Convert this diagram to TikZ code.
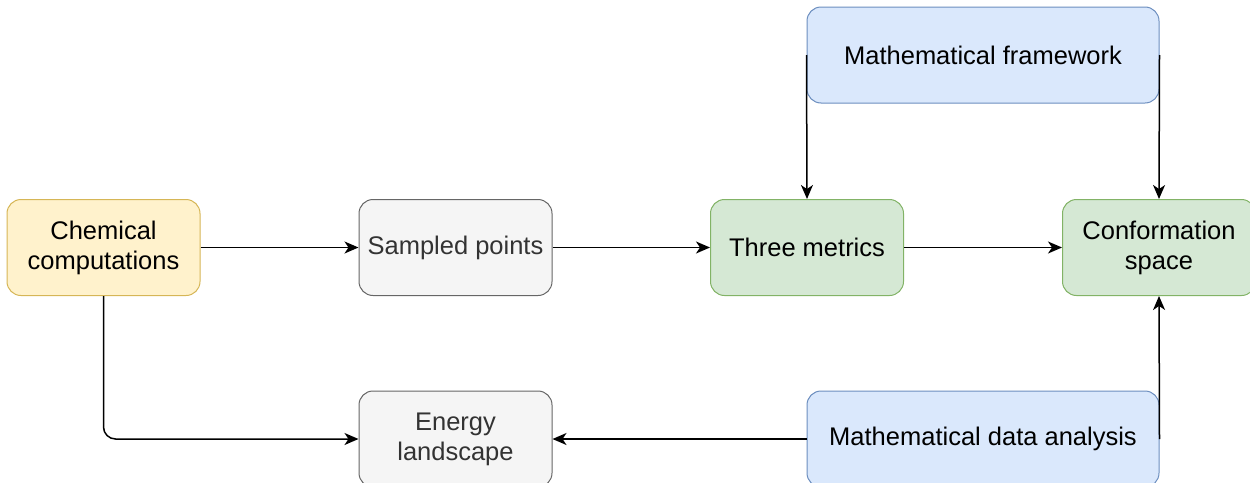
\documentclass[tikz,border=0pt]{standalone}
\usepackage{fontspec}
\setmainfont{Liberation Sans}
\usetikzlibrary{arrows.meta}
\definecolor{yfill}{HTML}{FFF2CC}
\definecolor{ydraw}{HTML}{D6B656}
\definecolor{gfill}{HTML}{F5F5F5}
\definecolor{gdraw}{HTML}{666666}
\definecolor{gtext}{HTML}{333333}
\definecolor{grfill}{HTML}{D5E8D4}
\definecolor{grdraw}{HTML}{82B366}
\definecolor{bfill}{HTML}{DAE8FC}
\definecolor{bdraw}{HTML}{6C8EBF}
\tikzset{
  box/.style={rounded corners=14pt, line width=1pt, minimum height=96pt, inner sep=0pt,
    align=center, font=\fontsize{25.5}{30}\selectfont},
  smallbox/.style={box, minimum width=193pt},
  widebox/.style={box, minimum width=352pt},
  yel/.style={fill=yfill, draw=ydraw},
  gry/.style={fill=gfill, draw=gdraw, text=gtext},
  grn/.style={fill=grfill, draw=grdraw},
  blu/.style={fill=bfill, draw=bdraw},
  conn/.style={line width=1.5pt, -{Stealth[length=14pt,width=12pt,inset=4pt]}}
}
\begin{document}
\begin{tikzpicture}[x=1pt,y=-1pt]
\useasboundingbox (0,0) rectangle (1250,482);
\clip (0,0) rectangle (1250,482);
\node[smallbox,yel] (chem) at (103.5,247.5) {Chemical\\computations};
\node[smallbox,gry] (samp) at (455.5,247.5) {Sampled points};
\node[smallbox,grn] (three) at (807,247.5) {Three metrics};
\node[smallbox,grn] (conf) at (1159,247.5) {Conformation\\space};
\node[widebox,blu] (frame) at (983,55) {Mathematical framework};
\node[smallbox,gry] (energy) at (455.5,439) {Energy\\landscape};
\node[widebox,blu] (data) at (983,439) {Mathematical data analysis};
\draw[conn] (chem) -- (samp);
\draw[conn] (samp) -- (three);
\draw[conn] (three) -- (conf);
\draw[conn] (frame.west) -- (three.north);
\draw[conn] (frame.east) -- (conf.north);
\draw[conn] (data.east) -- (conf.south);
\draw[conn] (data.west) -- (energy.east);
\draw[conn, rounded corners=12pt] (chem.south) |- (energy.west);
\end{tikzpicture}
\end{document}
